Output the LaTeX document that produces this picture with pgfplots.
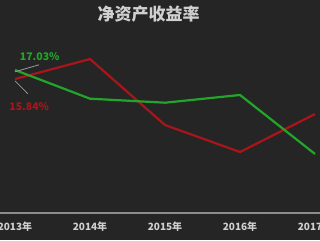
\documentclass[border=0pt]{standalone}
\usepackage{pgfplots}
\pgfplotsset{compat=1.18}
\usepackage{fontspec}
\setmainfont{Noto Sans CJK SC}
\definecolor{bg}{HTML}{252525}
\definecolor{gline}{HTML}{22A62A}
\definecolor{rline}{HTML}{A8161C}
\definecolor{txt}{HTML}{D0D0D0}
\definecolor{axl}{HTML}{8C8C8C}
\begin{document}
\begin{tikzpicture}[x=1pt,y=1pt]
\fill[bg] (0,0) rectangle (320,240);
\useasboundingbox (0,0) rectangle (320,240);
\begin{axis}[
  at={(0pt,27pt)}, anchor=south west,
  scale only axis, width=320pt, height=183pt,
  xmin=-0.2, xmax=4.0667, ymin=-1.87, ymax=22.32,
  axis x line=bottom, axis y line=none,
  axis line style={-, draw=axl, line width=1.8pt},
  xtick={0,1,2,3,4},
  xticklabels={2013年,2014年,2015年,2016年,2017年},
  major tick length=0pt,
  xticklabel style={anchor=center, yshift=-14pt, font=\fontsize{10}{12}\selectfont\bfseries, text=txt},
  clip=false,
]
\addplot[rline, line width=2.2pt] coordinates {(0,15.84) (1,18.48) (2,9.76) (3,6.19) (4,11.21)};
\addplot[gline, line width=2.2pt] coordinates {(0,17.03) (1,13.24) (2,12.71) (3,13.73) (4,5.93)};
\draw[gray!80, line width=0.8pt] (axis cs:0,16.8) -- (axis cs:0.32,17.72);
\draw[gray!80, line width=0.8pt] (axis cs:0,15.6) -- (axis cs:0.17,13.9);
\node[text=gline, font=\fontsize{10.5}{12}\selectfont\bfseries] at (axis cs:0.33,18.75) {17.03\%};
\node[text=rline, font=\fontsize{10.5}{12}\selectfont\bfseries] at (axis cs:0.19,12.2) {15.84\%};
\end{axis}
\node[text=txt, font=\fontsize{17}{20}\selectfont\bfseries] at (148.5,226) {净资产收益率};
\end{tikzpicture}
\end{document}
